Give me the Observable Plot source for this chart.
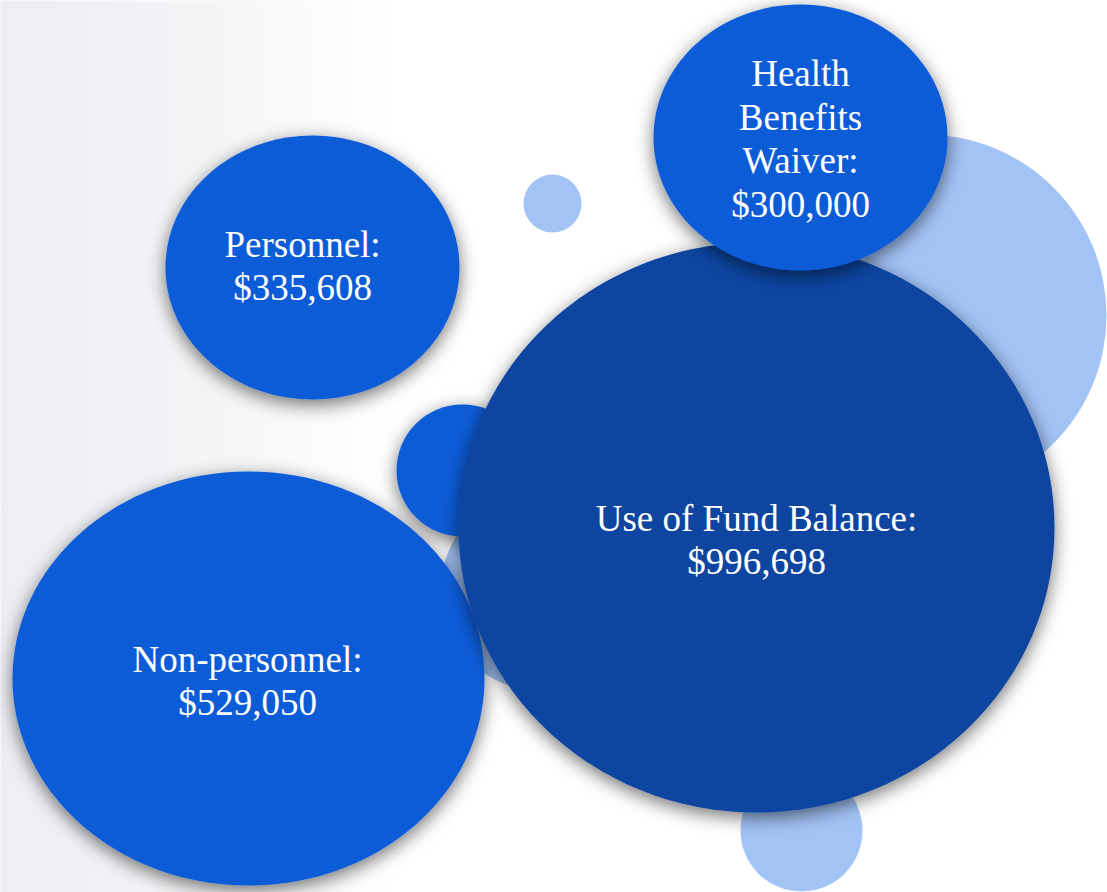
<!DOCTYPE html>
<html>
<head>
<meta charset="utf-8">
<script src="https://cdn.jsdelivr.net/npm/d3@7"></script>
<script src="https://cdn.jsdelivr.net/npm/@observablehq/plot@0.6"></script>
<style>
  html, body { margin: 0; padding: 0; background: #fff; }
  #chart svg { display: block; }
</style>
</head>
<body>
<div id="chart"></div>
<script>
// ---- data ----
const categories = ["Personnel", "Health\nBenefits\nWaiver", "Use of Fund Balance", "Non-personnel"];
const amounts = [335608, 300000, 996698, 529050];
const tones = ["medium", "medium", "dark", "medium"];

// bubble layout (chart units, 1 unit = 1 px)
const bubbleX = [312, 800, 756, 248];
const bubbleY = [267, 137, 527, 678];
const bubbleRX = [147, 147, 298, 236];
const bubbleRY = [132, 133, 285, 207];
const labelX = [302, 800, 756, 247];
const labelY = [264, 137, 538, 679];

// decorative circles
const decoX = [925, 552, 801, 540, 462];
const decoY = [315, 203, 830, 590, 470];
const decoR = [181, 29, 61, 100, 66];
const decoTone = ["light", "light", "light", "light", "medium"];

const palette = {light: "#a2c3f6", medium: "#0d5bd7", dark: "#0a44a0"};
const fmt = d3.format("$,");

// ---- build tables ----
const bubbles = categories.map((c, i) => ({
  label: c + ":\n" + fmt(amounts[i]),
  x: bubbleX[i], y: bubbleY[i], rx: bubbleRX[i], ry: bubbleRY[i],
  lx: labelX[i], ly: labelY[i], tone: tones[i]
}));
const decos = decoX.map((x, i) => ({x, y: decoY[i], r: decoR[i], tone: decoTone[i]}));

function ellipseSymbol(aspect) {
  return {
    draw(ctx, size) {
      const r = Math.sqrt(size / Math.PI);
      const rx = r * aspect, ry = r, k = 0.5522847498;
      ctx.moveTo(rx, 0);
      ctx.bezierCurveTo(rx, ry * k, rx * k, ry, 0, ry);
      ctx.bezierCurveTo(-rx * k, ry, -rx, ry * k, -rx, 0);
      ctx.bezierCurveTo(-rx, -ry * k, -rx * k, -ry, 0, -ry);
      ctx.bezierCurveTo(rx * k, -ry, rx, -ry * k, rx, 0);
      ctx.closePath();
    }
  };
}

const order = [0, 3, 2, 1]; // draw order: Personnel, Non-personnel, Fund, Health on top

const marks = [
  Plot.frame({fill: "url(#bgGrad)", stroke: "none"}),
  ...decos.map(d => Plot.dot([d], {x: "x", y: "y", r: d.r, fill: palette[d.tone]})),
  ...order.map(i => {
    const b = bubbles[i];
    return Plot.dot([b], {x: "x", y: "y", r: b.ry, symbol: ellipseSymbol(b.rx / b.ry), fill: palette[b.tone]});
  }),
  ...order.map(i => Plot.text([bubbles[i]], {
    x: "lx", y: "ly", text: "label", fill: "#ffffff",
    fontSize: 37, fontFamily: "Liberation Serif, 'Times New Roman', serif",
    lineHeight: 1.18, textAnchor: "middle"
  }))
];

const chart = Plot.plot({
  width: 1107,
  height: 892,
  margin: 0,
  x: {domain: [0, 1107], range: [0, 1107], axis: null},
  y: {domain: [0, 892], range: [0, 892], axis: null},
  style: {background: "transparent"},
  marks
});

// defs: background gradient + drop shadow
const svgSel = d3.select(chart);
const defs = svgSel.insert("defs", ":first-child");
const grad = defs.append("linearGradient").attr("id", "bgGrad")
  .attr("x1", "0").attr("y1", "0").attr("x2", "1").attr("y2", "0");
grad.append("stop").attr("offset", "0").attr("stop-color", "#eceef2");
grad.append("stop").attr("offset", "0.18").attr("stop-color", "#f3f4f6");
grad.append("stop").attr("offset", "0.36").attr("stop-color", "#ffffff");
grad.append("stop").attr("offset", "1").attr("stop-color", "#ffffff");
const filt = defs.append("filter").attr("id", "shadow")
  .attr("x", "-20%").attr("y", "-20%").attr("width", "140%").attr("height", "150%");
filt.append("feDropShadow").attr("dx", 0).attr("dy", 5).attr("stdDeviation", 9)
  .attr("flood-color", "#000").attr("flood-opacity", 0.55);

svgSel.selectAll("g").filter(function() {
  const f = this.getAttribute("fill");
  return f === palette.medium || f === palette.dark;
}).filter(function() { return this.querySelector("path, circle"); })
  .attr("filter", "url(#shadow)");

document.getElementById("chart").appendChild(chart);
</script>
</body>
</html>
